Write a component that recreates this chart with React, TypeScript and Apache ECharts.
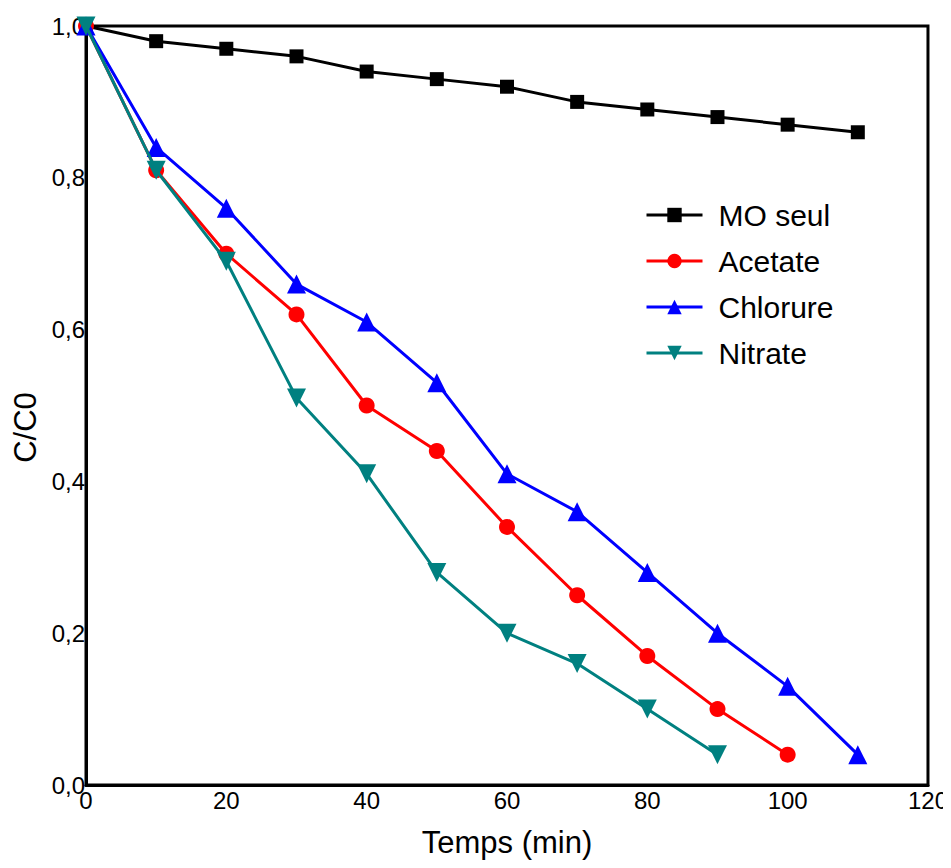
import React, { useEffect, useRef } from "react";
import * as echarts from "echarts";

const times = [0, 10, 20, 30, 40, 50, 60, 70, 80, 90, 100, 110];
const moSeul = [1.0, 0.98, 0.97, 0.96, 0.94, 0.93, 0.92, 0.9, 0.89, 0.88, 0.87, 0.86];
const acetate = [1.0, 0.81, 0.7, 0.62, 0.5, 0.44, 0.34, 0.25, 0.17, 0.1, 0.04];
const chlorure = [1.0, 0.84, 0.76, 0.66, 0.61, 0.53, 0.41, 0.36, 0.28, 0.2, 0.13, 0.04];
const nitrate = [1.0, 0.81, 0.69, 0.51, 0.41, 0.28, 0.2, 0.16, 0.1, 0.04];

const seriesNames = ["MO seul", "Acetate", "Chlorure", "Nitrate"];
const seriesColors = ["#000000", "#ff0000", "#0000ff", "#008080"];

const FONT = "'Liberation Sans', Arial, sans-serif";

const pairs = (ys: number[]) => ys.map((y, i) => [times[i], y]);

export default function App() {
  const ref = useRef<HTMLDivElement>(null);
  useEffect(() => {
    if (!ref.current) return;
    const chart = echarts.init(ref.current, undefined, { renderer: "svg" });
    const datas = [moSeul, acetate, chlorure, nitrate];
    const symbols = ["rect", "circle", "triangle", "path://M0,0 L10,0 L5,9 Z"];
    const sizes = [14, 16, 19, 19];
    chart.setOption({
      animation: false,
      backgroundColor: "#ffffff",
      textStyle: { fontFamily: FONT },
      grid: {
        left: 86,
        right: 23,
        top: 26,
        bottom: 83,
        show: true,
        borderColor: "#000",
        borderWidth: 3,
        containLabel: false,
      },
      legend: {
        orient: "vertical",
        left: 640,
        top: 195,
        itemWidth: 56,
        itemHeight: 18,
        itemGap: 16,
        data: seriesNames.map((name, i) => ({
          name,
          lineStyle: { width: 3, color: seriesColors[i] },
        })),
        textStyle: {
          fontFamily: FONT,
          fontSize: 30,
          color: "#000",
          lineHeight: 30,
          padding: [0, 0, 0, 11],
        },
      },
      xAxis: {
        type: "value",
        min: 0,
        max: 120,
        interval: 20,
        name: "Temps (min)",
        nameLocation: "middle",
        nameGap: 42,
        nameTextStyle: { fontFamily: FONT, fontSize: 31, color: "#000" },
        axisLine: { show: true, lineStyle: { color: "#000", width: 3 } },
        axisTick: { show: false },
        splitLine: { show: false },
        axisLabel: { fontFamily: FONT, fontSize: 24, color: "#000", margin: 3 },
      },
      yAxis: {
        type: "value",
        min: 0,
        max: 1,
        interval: 0.2,
        name: "C/C0",
        nameLocation: "middle",
        nameGap: 44,
        nameTextStyle: {
          fontFamily: FONT,
          fontSize: 31,
          color: "#000",
          padding: [0, 44, 0, 0],
        },
        axisLine: { show: true, lineStyle: { color: "#000", width: 3 } },
        axisTick: { show: false },
        splitLine: { show: false },
        axisLabel: {
          fontFamily: FONT,
          fontSize: 24,
          color: "#000",
          margin: 1,
          formatter: (v: number) => v.toFixed(1).replace(".", ","),
        },
      },
      series: seriesNames.map((name, i) => ({
        name,
        type: "line",
        data: pairs(datas[i]),
        symbol: symbols[i],
        symbolSize: sizes[i],
        showSymbol: true,
        itemStyle: { color: seriesColors[i] },
        lineStyle: { color: seriesColors[i], width: 3 },
        z: 2 + i,
      })),
    });
    return () => chart.dispose();
  }, []);
  return <div ref={ref} style={{ width: 951, height: 868, margin: -8 }} />;
}
